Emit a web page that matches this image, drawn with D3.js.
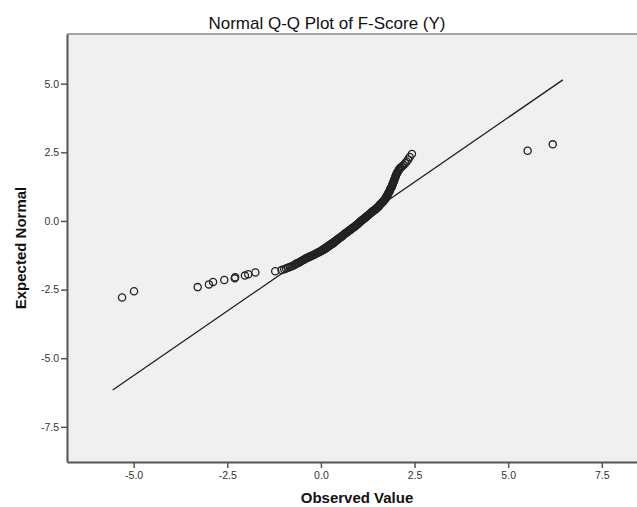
<!DOCTYPE html>
<html>
<head>
<meta charset="utf-8">
<script src="https://cdn.jsdelivr.net/npm/d3@7"></script>
<style>
  body { margin: 0; background: #fff; }
  svg { display: block; font-family: "Liberation Sans", Arial, sans-serif; }
</style>
</head>
<body>
<svg id="chart" width="637" height="507"></svg>
<script>
var observed = [
  -5.31, -4.99, -3.29, -2.99, -2.88, -2.58, -2.30, -2.29, -2.03, -1.94, -1.75, -1.22,
  -1.05, -0.98, -0.93, -0.88, -0.83, -0.78, -0.73, -0.69,
  -0.66, -0.63, -0.60, -0.57, -0.54, -0.51, -0.47,
  -0.44, -0.42, -0.39, -0.36, -0.34, -0.31, -0.28, -0.26, -0.23, -0.20,
  -0.17, -0.15, -0.12, -0.09, -0.07, -0.04, -0.02, 0.01, 0.03, 0.06,
  0.08, 0.10, 0.13, 0.15, 0.17, 0.19, 0.22, 0.24, 0.26, 0.28, 0.31, 0.33,
  0.35, 0.37, 0.39, 0.41, 0.43, 0.45, 0.47, 0.49, 0.52, 0.54, 0.56, 0.58, 0.60,
  0.62, 0.64, 0.67, 0.69, 0.71, 0.73, 0.76, 0.78, 0.80, 0.82, 0.84, 0.87, 0.89, 0.91, 0.93, 0.95,
  0.97, 0.99, 1.01, 1.03, 1.05, 1.07, 1.09, 1.11, 1.14, 1.16, 1.18, 1.20, 1.22,
  1.24, 1.26, 1.28, 1.30, 1.32, 1.34, 1.36, 1.38, 1.40, 1.43, 1.45, 1.47, 1.49,
  1.51, 1.53, 1.55, 1.56, 1.58, 1.60, 1.62, 1.64, 1.66, 1.67, 1.69, 1.71,
  1.72, 1.74, 1.75, 1.76, 1.78, 1.79, 1.80, 1.82, 1.83, 1.84, 1.85, 1.86, 1.88, 1.89,
  1.90, 1.91, 1.92, 1.93, 1.94, 1.95, 1.96, 1.97, 1.98, 1.99, 2.00, 2.01, 2.02,
  2.04, 2.05, 2.07, 2.09, 2.10, 2.12, 2.13,
  2.17, 2.21, 2.25, 2.29, 2.33, 2.37, 2.43,
  5.52, 6.19
];
var expected = [
  -2.79, -2.56, -2.41, -2.31, -2.22, -2.15, -2.09, -2.05, -1.99, -1.94, -1.88, -1.83,
  -1.79, -1.76, -1.73, -1.70, -1.68, -1.65, -1.62, -1.59,
  -1.56, -1.54, -1.52, -1.50, -1.48, -1.45, -1.42,
  -1.40, -1.38, -1.36, -1.34, -1.32, -1.31, -1.29, -1.28, -1.26, -1.24,
  -1.22, -1.20, -1.18, -1.16, -1.15, -1.13, -1.11, -1.09, -1.08, -1.06,
  -1.04, -1.02, -1.00, -0.98, -0.96, -0.94, -0.91, -0.89, -0.87, -0.85, -0.83, -0.81,
  -0.79, -0.76, -0.74, -0.72, -0.69, -0.67, -0.65, -0.62, -0.60, -0.58, -0.56, -0.53, -0.51,
  -0.49, -0.46, -0.44, -0.42, -0.40, -0.37, -0.35, -0.33, -0.31, -0.28, -0.26, -0.24, -0.22, -0.19, -0.17, -0.15,
  -0.13, -0.10, -0.08, -0.05, -0.03, 0.00, 0.02, 0.04, 0.07, 0.09, 0.11, 0.14, 0.16,
  0.18, 0.21, 0.23, 0.25, 0.28, 0.30, 0.32, 0.35, 0.37, 0.39, 0.42, 0.44, 0.46,
  0.49, 0.52, 0.54, 0.57, 0.60, 0.62, 0.65, 0.68, 0.70, 0.73, 0.76, 0.78,
  0.81, 0.85, 0.88, 0.91, 0.95, 0.98, 1.01, 1.05, 1.08, 1.11, 1.15, 1.18, 1.22, 1.25,
  1.29, 1.32, 1.36, 1.39, 1.43, 1.47, 1.50, 1.54, 1.57, 1.61, 1.65, 1.68, 1.72,
  1.76, 1.79, 1.83, 1.87, 1.90, 1.93, 1.95,
  1.99, 2.04, 2.10, 2.17, 2.24, 2.33, 2.44,
  2.56, 2.79
];
// reference line end points
var lineX = [-5.56, 6.46];
var lineY = [-6.16, 5.14];

var xTicks = [-5.0, -2.5, 0.0, 2.5, 5.0, 7.5];
var yTicks = [-7.5, -5.0, -2.5, 0.0, 2.5, 5.0];

var svg = d3.select("#chart");
var plotL = 67, plotR = 637, plotT = 34, plotB = 462;

var x = d3.scaleLinear().domain([-6.78, 8.44]).range([plotL, plotR]);
var y = d3.scaleLinear().domain([-8.78, 6.81]).range([plotB, plotT]);
var fmt = function(d) { return d.toFixed(1); };

// plot background
svg.append("rect")
    .attr("x", plotL).attr("y", plotT)
    .attr("width", plotR - plotL).attr("height", plotB - plotT)
    .attr("fill", "#f0f0f0");
svg.append("line")
    .attr("x1", plotL).attr("x2", plotR)
    .attr("y1", plotT).attr("y2", plotT)
    .attr("stroke", "#8a8a8a").attr("stroke-width", 1.5);

// reference line
svg.append("line")
    .attr("x1", x(lineX[0])).attr("y1", y(lineY[0]))
    .attr("x2", x(lineX[1])).attr("y2", y(lineY[1]))
    .attr("stroke", "#1e1e1e").attr("stroke-width", 1.3);

// points
var pts = observed.map(function(v, i) { return {x: v, y: expected[i]}; });
svg.append("g").selectAll("circle")
    .data(pts)
    .enter().append("circle")
        .attr("cx", function(d) { return x(d.x); })
        .attr("cy", function(d) { return y(d.y); })
        .attr("r", 3.6)
        .attr("fill", "none")
        .attr("stroke", "#222")
        .attr("stroke-width", 1.3);

// axes
var xAxis = svg.append("g")
    .attr("transform", "translate(0," + plotB + ")")
    .call(d3.axisBottom(x).tickValues(xTicks).tickFormat(fmt).tickSize(6).tickSizeOuter(0).tickPadding(4));
var yAxis = svg.append("g")
    .attr("transform", "translate(" + plotL + ",0)")
    .call(d3.axisLeft(y).tickValues(yTicks).tickFormat(fmt).tickSize(6).tickSizeOuter(0).tickPadding(2));

[xAxis, yAxis].forEach(function(a) {
  a.select(".domain").attr("stroke", "#555").attr("stroke-width", 2);
  a.selectAll(".tick line").attr("stroke", "#555").attr("stroke-width", 1.5);
  a.selectAll(".tick text")
      .attr("fill", "#333")
      .style("font-size", "10.5px")
      .style("font-family", "'Liberation Sans', Arial, sans-serif");
});

// titles
svg.append("text")
    .attr("x", 327).attr("y", 29)
    .attr("text-anchor", "middle")
    .style("font-size", "17px")
    .attr("fill", "#111")
    .text("Normal Q-Q Plot of F-Score (Y)");
svg.append("text")
    .attr("x", 357).attr("y", 503)
    .attr("text-anchor", "middle")
    .style("font-size", "15px")
    .style("font-weight", "bold")
    .attr("fill", "#111")
    .text("Observed Value");
svg.append("text")
    .attr("transform", "translate(26,248) rotate(-90)")
    .attr("text-anchor", "middle")
    .style("font-size", "15px")
    .style("font-weight", "bold")
    .attr("fill", "#111")
    .text("Expected Normal");
</script>
</body>
</html>
